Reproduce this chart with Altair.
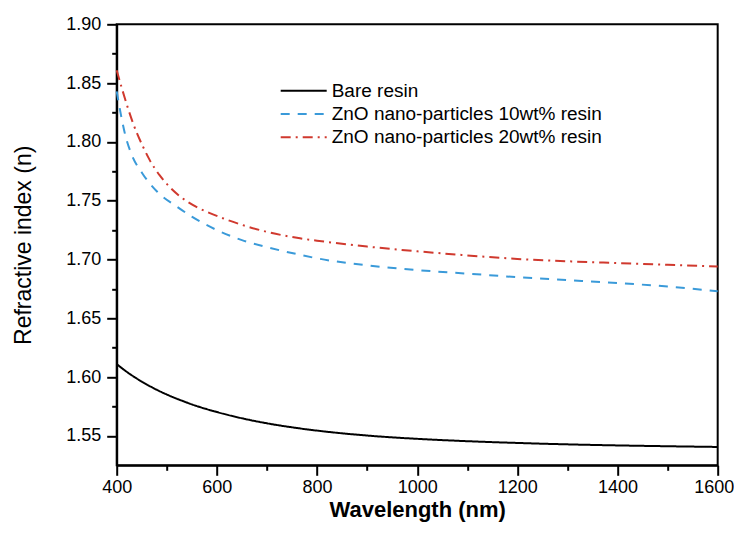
import altair as alt
import pandas as pd

# ---- data ----
series_names = ["Bare resin",
                "ZnO nano-particles 10wt% resin",
                "ZnO nano-particles 20wt% resin"]
series_colors = ["#000000", "#3a9ad9", "#d0392e"]
series_dashes = [[1, 0], [9, 8], [10, 5, 2, 5]]

bare_wl = [400, 425, 450, 475, 500, 525, 550, 600, 650, 700, 750, 800, 900, 1000, 1100, 1200, 1300, 1400, 1500, 1600]
bare_n = [1.6110, 1.6030, 1.5962, 1.5903, 1.5852, 1.5808, 1.5768, 1.5703, 1.5650, 1.5607, 1.5573, 1.5545,
          1.5503, 1.5475, 1.5455, 1.5440, 1.5428, 1.5419, 1.5412, 1.5406]

zno10_wl = [400, 408, 417, 430, 450, 480, 520, 550, 600, 650, 700, 766, 800, 900, 1000, 1100, 1200, 1300, 1400, 1500, 1600]
zno10_n = [1.843, 1.824, 1.806, 1.789, 1.774, 1.758, 1.745, 1.7365, 1.725, 1.7165, 1.7105, 1.704, 1.701, 1.695,
           1.691, 1.688, 1.685, 1.6825, 1.680, 1.677, 1.673]

zno20_wl = [400, 410, 420, 433, 453, 466, 486, 506, 530, 560, 586, 650, 700, 766, 800, 900, 1000, 1100, 1200, 1300, 1400, 1500, 1600]
zno20_n = [1.861, 1.846, 1.832, 1.8155, 1.7955, 1.7845, 1.7715, 1.7615, 1.7525, 1.7445, 1.7395, 1.7295, 1.7235,
           1.7180, 1.7160, 1.7110, 1.7070, 1.7035, 1.7005, 1.6985, 1.6970, 1.6955, 1.6940]

x_ticks = list(range(400, 1700, 100))
y_ticks = [1.55, 1.575, 1.60, 1.625, 1.65, 1.675, 1.70, 1.725, 1.75, 1.775, 1.80, 1.825, 1.85, 1.875, 1.90]

rows = []
for name, wl, n in zip(series_names, [bare_wl, zno10_wl, zno20_wl], [bare_n, zno10_n, zno20_n]):
    for w, v in zip(wl, n):
        rows.append({"series": name, "wavelength": w, "n": v})
df = pd.DataFrame(rows)

FONT = "Liberation Sans"

legend = alt.Legend(title=None, orient="none", legendX=163, legendY=56,
                    symbolType="stroke", symbolSize=2116, symbolStrokeWidth=2,
                    labelFontSize=19, labelFont=FONT, labelColor="black",
                    clipHeight=21, rowPadding=2.2, labelOffset=4, labelLimit=0,
                    padding=0)

major_y_test = "abs(round(datum.value*20) - datum.value*20) < 0.01"

chart = alt.Chart(df).mark_line(strokeWidth=2, interpolate="monotone").encode(
    x=alt.X("wavelength:Q",
            scale=alt.Scale(domain=[400, 1600], nice=False, zero=False),
            axis=alt.Axis(values=x_ticks, format="d",
                          labelExpr="datum.value % 200 == 0 ? datum.label : ''",
                          labelOffset={"condition": {"test": "datum.value == 1600", "value": -4}, "value": 0},
                          tickSize={"condition": {"test": "datum.value % 200 == 0", "value": 10}, "value": 5},
                          title="Wavelength (nm)", titleFontSize=22, titleFontWeight="bold",
                          titleFont=FONT, titleColor="black", titleY=44, titleBaseline="middle",
                          labelFontSize=18, labelFont=FONT, labelColor="black", labelPadding=3,
                          labelFlush=False, labelOverlap=False,
                          domainColor="black", domainWidth=2, tickColor="black", tickWidth=2,
                          grid=False)),
    y=alt.Y("n:Q",
            scale=alt.Scale(domain=[1.525, 1.90], nice=False, zero=False),
            axis=alt.Axis(values=y_ticks, format=".2f",
                          labelExpr=major_y_test + " ? datum.label : ''",
                          tickSize={"condition": {"test": major_y_test, "value": 10}, "value": 5},
                          title="Refractive index (n)", titleFontSize=23, titleFontWeight="normal",
                          titleFont=FONT, titleColor="black", titleAngle=270,
                          titleX=-93, titleY=220.5, titleAlign="center", titleBaseline="middle",
                          labelFontSize=18, labelFont=FONT, labelColor="black", labelPadding=6,
                          labelFlush=False, labelOverlap=False,
                          domainColor="black", domainWidth=2, tickColor="black", tickWidth=2,
                          grid=False)),
    color=alt.Color("series:N", scale=alt.Scale(domain=series_names, range=series_colors), legend=legend),
    strokeDash=alt.StrokeDash("series:N", scale=alt.Scale(domain=series_names, range=series_dashes), legend=legend),
).properties(
    width=601, height=441,
    autosize=alt.AutoSizeParams(type="none"),
    padding={"left": 108.7, "top": 16.3, "right": 16, "bottom": 57},
).configure_view(stroke="black", strokeWidth=2)

chart.save("out.html", embed_options={"renderer": "svg", "actions": False})
